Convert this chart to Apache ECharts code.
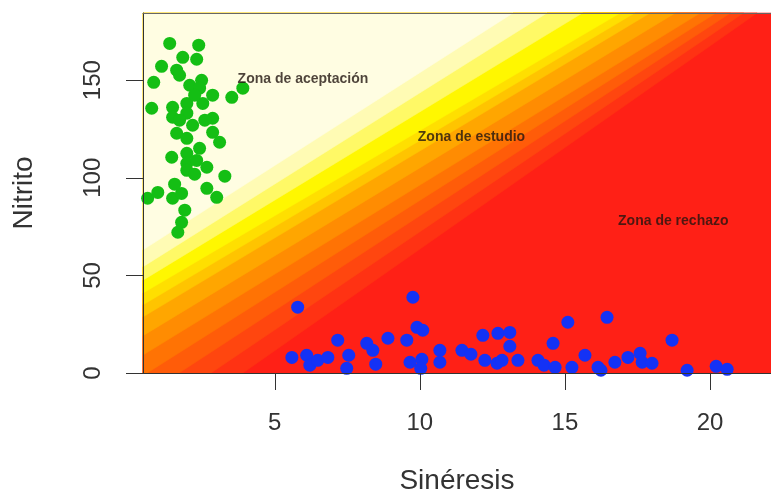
<!DOCTYPE html>
<html>
<head>
<meta charset="utf-8">
<script src="https://cdn.jsdelivr.net/npm/echarts@6/dist/echarts.min.js"></script>
<style>html,body{margin:0;padding:0;background:#fff}#c{width:771px;height:502px}</style>
</head>
<body>
<div id="c"></div>
<script>
// ---- data ----
const xTicks = [5, 10, 15, 20];
const yTicks = [0, 50, 100, 150];
const xRange = [0.46, 22.1];
const yRange = [0, 184.4];

const greenX = [1.38,2.38,1.83,2.31,1.10,1.62,1.72,0.83,2.48,2.07,2.41,2.86,3.52,3.90,0.76,1.48,1.97,2.52,1.48,1.97,2.86,1.62,1.97,2.86,3.10,1.45,1.97,2.41,1.97,2.31,2.66,1.97,3.28,0.62,0.97,1.48,1.79,2.66,3.00,1.90,1.79,1.66,2.24,1.72,2.17,2.59,2.24,1.55];
const greenY = [168.8,167.9,161.7,160.7,157.1,155.1,152.5,148.9,149.9,147.4,145.9,142.3,141.2,145.9,135.6,136.1,138.1,138.1,131.0,133.1,130.5,122.8,120.2,123.3,118.2,110.5,112.5,115.1,107.4,108.9,105.4,103.8,100.8,89.5,92.5,89.5,92.0,94.6,90.0,83.4,77.2,72.1,142.3,129.5,126.9,129.5,101.8,96.7];

const blueX = [5.79,5.59,6.10,6.21,6.48,6.83,7.17,7.55,7.48,8.17,8.38,8.48,8.90,9.55,9.76,9.90,10.10,9.66,10.07,10.03,10.69,10.69,11.45,11.76,12.17,12.24,12.66,12.83,12.69,13.10,13.10,13.38,14.07,14.28,14.59,14.66,15.10,15.24,15.69,16.14,16.24,16.45,16.72,17.17,17.59,17.66,18.00,18.69,19.21,20.21,20.59];
const blueY = [33.7,8.0,9.1,4.0,6.5,8.0,16.8,9.1,2.4,15.2,11.6,4.5,17.8,16.8,38.8,23.4,21.9,5.5,7.0,2.4,11.6,5.5,11.6,9.6,19.3,6.5,5.0,6.5,20.3,20.8,13.7,6.5,6.5,4.0,15.2,2.9,26.0,2.9,9.1,2.9,1.4,28.5,5.5,8.0,10.1,5.5,5.0,16.8,1.4,3.4,1.9];

// contour band boundaries: x where each boundary meets the bottom (y = min) and the top (y = max)
const bandBottomX = [-6.17,-5.37,-4.80,-4.24,-3.50,-2.77,-1.66,-0.55,0.60,1.70,2.80,3.90];
const bandTopX    = [13.21,14.38,15.60,16.90,17.40,17.93,18.80,19.66,20.20,20.70,21.15,21.62];
const bandColors = ['#FFFDE2','#FFFBB4','#FFF966','#FFF700','#FFDF00','#FFC400','#FFA600','#FF8C02','#FF7304','#FF5C09','#FF460F','#FF3213','#FF2016'];

const noteText = ['Zona de aceptación','Zona de estudio','Zona de rechazo'];
const noteX = [3.72, 9.93, 16.83];
const noteY = [150.5, 120.7, 78];

// ---- chart ----
const FONT = 'Liberation Sans, Arial, sans-serif';
function zip(a, b) { return a.map((v, i) => [v, b[i]]); }

function clipHalf(poly, f) {
  const out = [];
  for (let i = 0; i < poly.length; i++) {
    const p = poly[i], q = poly[(i + 1) % poly.length];
    const fp = f(p), fq = f(q);
    if (fp >= 0) out.push(p);
    if ((fp >= 0) !== (fq >= 0)) {
      const t = fp / (fp - fq);
      out.push([p[0] + t * (q[0] - p[0]), p[1] + t * (q[1] - p[1])]);
    }
  }
  return out;
}

// draw order: full red rect, then regions left/above each boundary, darkest first
const nB = bandBottomX.length;
const bandOrder = [];
for (let j = nB; j >= 0; j--) bandOrder.push(j);

function renderBand(params, api) {
  const j = api.value(0);
  const rect = [[xRange[0], yRange[0]], [xRange[1], yRange[0]], [xRange[1], yRange[1]], [xRange[0], yRange[1]]];
  let poly = rect;
  let color = bandColors[j];
  if (j < nB) {
    const xb = bandBottomX[j], xt = bandTopX[j];
    poly = clipHalf(rect, p => (xb + (xt - xb) * (p[1] - yRange[0]) / (yRange[1] - yRange[0])) - p[0]);
  }
  if (poly.length < 3) return null;
  return {
    type: 'polygon',
    shape: { points: poly.map(p => api.coord(p)) },
    style: { fill: color, stroke: color, lineWidth: 0.6 }
  };
}

const chart = echarts.init(document.getElementById('c'), null, { renderer: 'canvas' });
const axisCommon = {
  axisLine: { show: true, onZero: false, lineStyle: { color: '#333', width: 1 } },
  splitLine: { show: false },
  z: 5
};
chart.setOption({
  animation: false,
  backgroundColor: '#fff',
  grid: { left: 143, top: 13, width: 628, height: 360, show: false },
  xAxis: [{
    type: 'value', min: xRange[0], max: xRange[1], position: 'bottom',
    ...axisCommon,
    axisTick: { show: true, length: 17, customValues: xTicks, lineStyle: { color: '#333' } },
    axisLabel: { show: true, customValues: xTicks, fontSize: 24, color: '#333', fontFamily: FONT, margin: 38 },
    name: 'Sinéresis', nameLocation: 'middle', nameGap: 94,
    nameTextStyle: { fontSize: 28, color: '#333', fontFamily: FONT }
  }, {
    type: 'value', min: xRange[0], max: xRange[1], position: 'top',
    axisLine: { show: true, onZero: false, lineStyle: { color: '#666', width: 1 } },
    axisTick: { show: false }, axisLabel: { show: false }, splitLine: { show: false }, z: 5
  }],
  yAxis: {
    type: 'value', min: yRange[0], max: yRange[1],
    ...axisCommon,
    axisTick: { show: true, length: 17, customValues: yTicks, lineStyle: { color: '#333' } },
    axisLabel: { show: true, customValues: yTicks, rotate: 90, fontSize: 24, color: '#333', fontFamily: FONT, margin: 38 },
    name: 'Nitrito', nameLocation: 'middle', nameGap: 105, nameRotate: 90,
    nameTextStyle: { fontSize: 28, color: '#333', fontFamily: FONT }
  },
  series: [{
    type: 'custom',
    renderItem: renderBand,
    data: bandOrder.map(j => [j]),
    silent: true,
    z: 1
  }, {
    type: 'scatter',
    data: zip(greenX, greenY),
    symbolSize: 13,
    itemStyle: { color: '#14BE14', opacity: 1 },
    clip: true,
    z: 3
  }, {
    type: 'scatter',
    data: zip(blueX, blueY),
    symbolSize: 13,
    itemStyle: { color: '#1432F5', opacity: 1 },
    clip: true,
    z: 3
  }, {
    type: 'scatter',
    data: noteText.map((t, i) => ({ name: t, value: [noteX[i], noteY[i]] })),
    symbolSize: 0,
    silent: true,
    label: { show: true, position: 'right', distance: 0, formatter: '{b}', fontSize: 14, fontWeight: 'bold', color: '#221510', fontFamily: FONT },
    z: 4
  }]
});
</script>
</body>
</html>
